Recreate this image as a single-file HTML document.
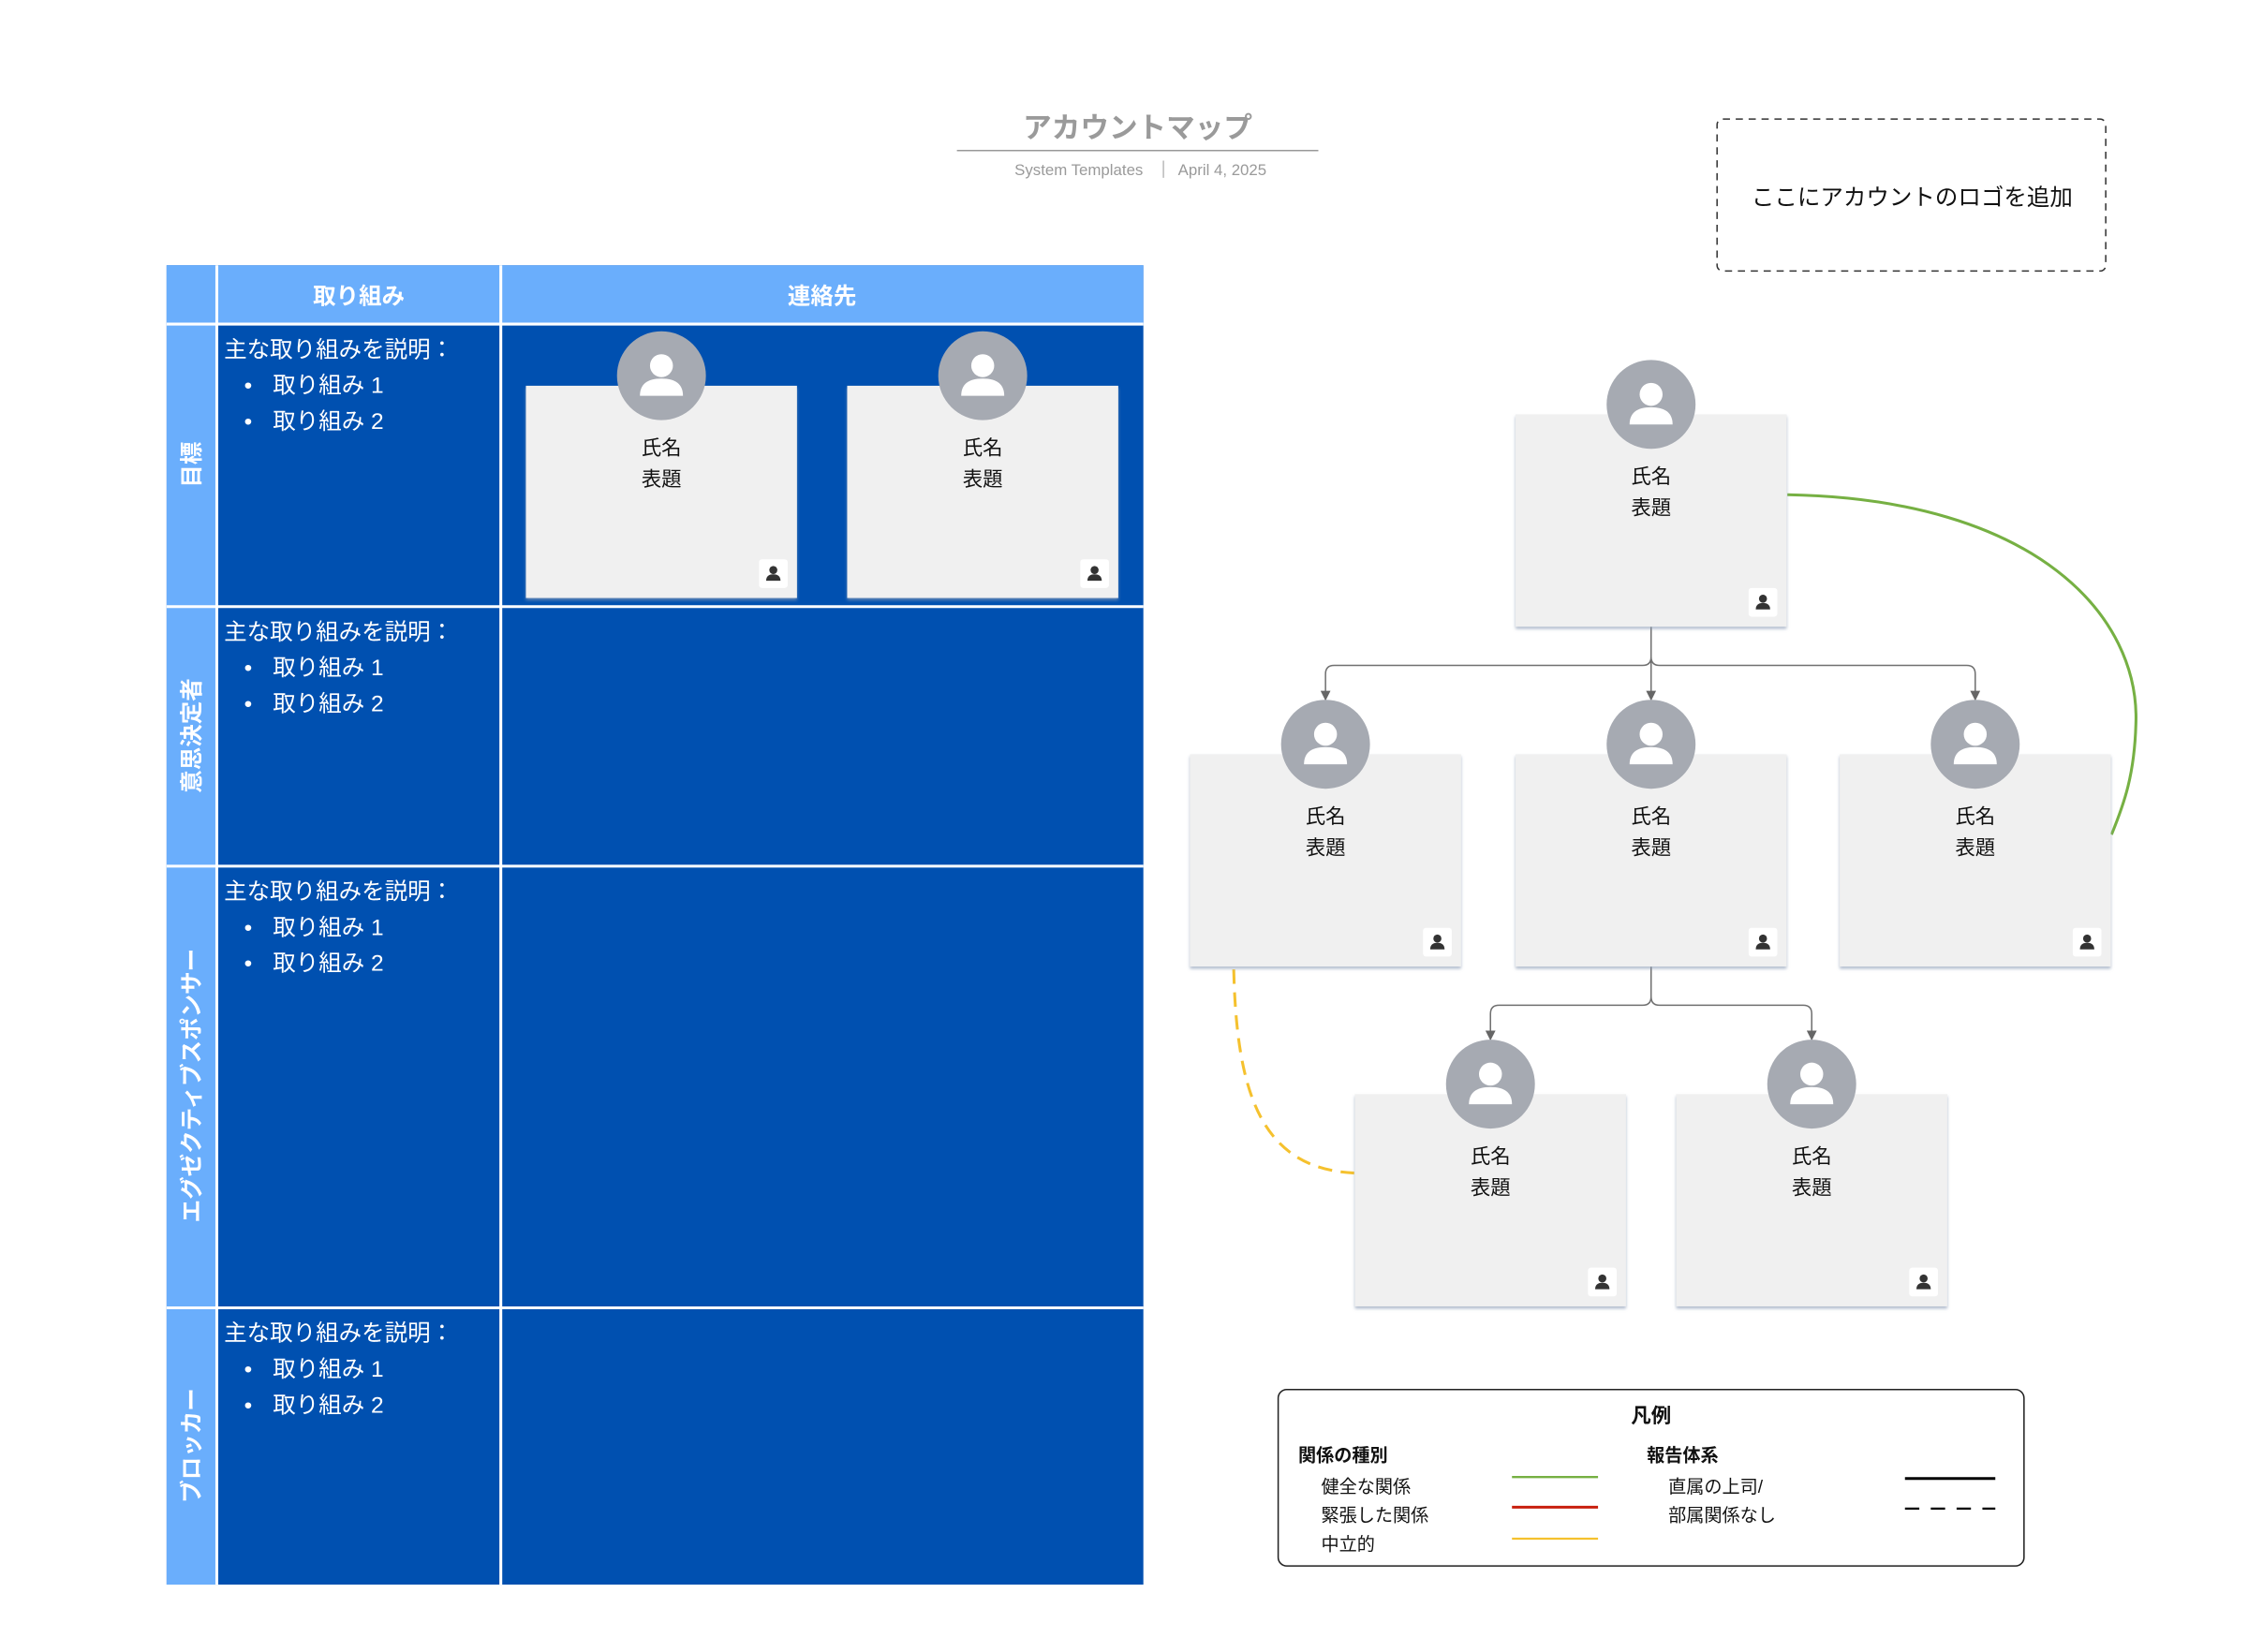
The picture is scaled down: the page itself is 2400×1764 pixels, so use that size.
<!DOCTYPE html>
<html><head><meta charset="utf-8">
<style>
html,body{margin:0;padding:0;background:#fff;}
svg{display:block;}
text{font-family:"Liberation Sans","Noto Sans CJK JP",sans-serif;}
</style></head>
<body>
<svg width="2400" height="1764" viewBox="0 0 1567 1152" xmlns="http://www.w3.org/2000/svg">
<defs>
  <g id="av">
    <circle cx="0" cy="0" r="31" fill="#a6aab2"/>
    <circle cx="0" cy="-7" r="8" fill="#fff"/>
    <path d="M-15 14 Q-15 2 0 2 Q15 2 15 14 Z" fill="#fff"/>
  </g>
  <g id="ic">
    <rect x="-10" y="-10" width="20" height="20" rx="2" fill="#fff"/>
    <circle cx="0" cy="-2.5" r="2.8" fill="#333"/>
    <path d="M-5 5 Q-5 0.5 0 0.5 Q5 0.5 5 5 Z" fill="#333"/>
  </g>
  <filter id="sh" x="-5%" y="-5%" width="110%" height="110%"><feDropShadow dx="0" dy="1.5" stdDeviation="1" flood-color="#8a9bb5" flood-opacity="0.7"/></filter>
  <marker id="ar" viewBox="0 0 10 10" refX="9" refY="5" markerWidth="7" markerHeight="7" orient="auto"><path d="M0 0L10 5L0 10z" fill="#666"/></marker>
</defs>

<text x="793" y="96" font-size="20" font-weight="bold" fill="#9a9a9a" text-anchor="middle">アカウントマップ</text>
<line x1="667" y1="105" x2="919" y2="105" stroke="#999" stroke-width="1"/>
<text x="752" y="122" font-size="11" fill="#9a9a9a" text-anchor="middle">System Templates</text>
<line x1="811" y1="112" x2="811" y2="124" stroke="#bbb" stroke-width="1"/>
<text x="852" y="122" font-size="11" fill="#9a9a9a" text-anchor="middle">April 4, 2025</text>

<rect x="1197" y="83" width="271" height="106" rx="4" fill="none" stroke="#333" stroke-width="1" stroke-dasharray="5,4"/>
<text x="1333" y="143" font-size="16" fill="#111" text-anchor="middle">ここにアカウントのロゴを追加</text>

<rect x="116" y="185" width="681" height="920" fill="#0050b0"/>
<rect x="116" y="185" width="681" height="41" fill="#6aaefc"/>
<rect x="116" y="185" width="35" height="920" fill="#6aaefc"/>
<g stroke="#fff" stroke-width="2">
<line x1="151" y1="185" x2="151" y2="1105"/>
<line x1="349" y1="185" x2="349" y2="1105"/>
<line x1="116" y1="226" x2="797" y2="226"/>
<line x1="116" y1="423" x2="797" y2="423"/>
<line x1="116" y1="604" x2="797" y2="604"/>
<line x1="116" y1="912" x2="797" y2="912"/>
</g>
<text x="250" y="212" font-size="16" font-weight="bold" fill="#fff" text-anchor="middle">取り組み</text>
<text x="573" y="212" font-size="16" font-weight="bold" fill="#fff" text-anchor="middle">連絡先</text>

<g font-size="16" font-weight="bold" fill="#fff" text-anchor="middle">
<text transform="translate(139 324) rotate(-90)">目標</text>
<text transform="translate(139 513) rotate(-90)">意思決定者</text>
<text transform="translate(139 757) rotate(-90)">エグゼクティブスポンサー</text>
<text transform="translate(139 1008) rotate(-90)">ブロッカー</text>
</g>

<g font-size="16" fill="#fff">
<text x="156" y="249">主な取り組みを説明：</text>
<text x="170" y="274">•</text><text x="190" y="274">取り組み 1</text>
<text x="170" y="299">•</text><text x="190" y="299">取り組み 2</text>
<text x="156" y="446">主な取り組みを説明：</text>
<text x="170" y="471">•</text><text x="190" y="471">取り組み 1</text>
<text x="170" y="496">•</text><text x="190" y="496">取り組み 2</text>
<text x="156" y="627">主な取り組みを説明：</text>
<text x="170" y="652">•</text><text x="190" y="652">取り組み 1</text>
<text x="170" y="677">•</text><text x="190" y="677">取り組み 2</text>
<text x="156" y="935">主な取り組みを説明：</text>
<text x="170" y="960">•</text><text x="190" y="960">取り組み 1</text>
<text x="170" y="985">•</text><text x="190" y="985">取り組み 2</text>
</g>

<g fill="none" stroke="#707070" stroke-width="1">
<path d="M1151 437 V458 Q1151 464 1145 464 H930 Q924 464 924 470 V488" marker-end="url(#ar)"/>
<path d="M1151 458 Q1151 464 1157 464 H1371 Q1377 464 1377 470 V488" marker-end="url(#ar)"/>
<path d="M1151 458 V488" marker-end="url(#ar)"/>
<path d="M1151 674 V695 Q1151 701 1145 701 H1045 Q1039 701 1039 707 V725" marker-end="url(#ar)"/>
<path d="M1151 695 Q1151 701 1157 701 H1257 Q1263 701 1263 707 V725" marker-end="url(#ar)"/>
</g>
<path d="M1246 345 C1420 348 1492 430 1489 505 C1488 540 1481 560 1472 582" fill="none" stroke="#76b043" stroke-width="2"/>
<path d="M860 676 C862 760 878 815 944 818" fill="none" stroke="#f5c12e" stroke-width="2" stroke-dasharray="10,6"/>

<g font-size="14" fill="#111" text-anchor="middle">
<g transform="translate(461 269)">
 <rect x="-94.5" y="0" width="189" height="148" fill="#f0f0f0" filter="url(#sh)"/>
 <use href="#av" y="-7"/><text y="48">氏名</text><text y="70">表題</text><use href="#ic" x="78" y="131"/>
</g>
<g transform="translate(685 269)">
 <rect x="-94.5" y="0" width="189" height="148" fill="#f0f0f0" filter="url(#sh)"/>
 <use href="#av" y="-7"/><text y="48">氏名</text><text y="70">表題</text><use href="#ic" x="78" y="131"/>
</g>
<g transform="translate(1151 289)">
 <rect x="-94.5" y="0" width="189" height="148" fill="#f0f0f0" filter="url(#sh)"/>
 <use href="#av" y="-7"/><text y="48">氏名</text><text y="70">表題</text><use href="#ic" x="78" y="131"/>
</g>
<g transform="translate(924 526)">
 <rect x="-94.5" y="0" width="189" height="148" fill="#f0f0f0" filter="url(#sh)"/>
 <use href="#av" y="-7"/><text y="48">氏名</text><text y="70">表題</text><use href="#ic" x="78" y="131"/>
</g>
<g transform="translate(1151 526)">
 <rect x="-94.5" y="0" width="189" height="148" fill="#f0f0f0" filter="url(#sh)"/>
 <use href="#av" y="-7"/><text y="48">氏名</text><text y="70">表題</text><use href="#ic" x="78" y="131"/>
</g>
<g transform="translate(1377 526)">
 <rect x="-94.5" y="0" width="189" height="148" fill="#f0f0f0" filter="url(#sh)"/>
 <use href="#av" y="-7"/><text y="48">氏名</text><text y="70">表題</text><use href="#ic" x="78" y="131"/>
</g>
<g transform="translate(1039 763)">
 <rect x="-94.5" y="0" width="189" height="148" fill="#f0f0f0" filter="url(#sh)"/>
 <use href="#av" y="-7"/><text y="48">氏名</text><text y="70">表題</text><use href="#ic" x="78" y="131"/>
</g>
<g transform="translate(1263 763)">
 <rect x="-94.5" y="0" width="189" height="148" fill="#f0f0f0" filter="url(#sh)"/>
 <use href="#av" y="-7"/><text y="48">氏名</text><text y="70">表題</text><use href="#ic" x="78" y="131"/>
</g>
</g>

<rect x="891" y="969" width="520" height="123" rx="6" fill="#fff" stroke="#222" stroke-width="1"/>
<text x="1151" y="992" font-size="14" font-weight="bold" fill="#111" text-anchor="middle">凡例</text>
<g font-size="12.5" fill="#111">
<text x="905" y="1019" font-weight="bold">関係の種別</text>
<text x="921" y="1041">健全な関係</text>
<text x="921" y="1061">緊張した関係</text>
<text x="921" y="1081">中立的</text>
<text x="1148" y="1019" font-weight="bold">報告体系</text>
<text x="1163" y="1041">直属の上司/</text>
<text x="1163" y="1061">部属関係なし</text>
</g>
<line x1="1054" y1="1030" x2="1114" y2="1030" stroke="#76b043" stroke-width="1.5"/>
<line x1="1054" y1="1051" x2="1114" y2="1051" stroke="#c8200e" stroke-width="2"/>
<line x1="1054" y1="1073" x2="1114" y2="1073" stroke="#f5c12e" stroke-width="1.5"/>
<line x1="1328" y1="1031" x2="1391" y2="1031" stroke="#000" stroke-width="2"/>
<line x1="1328" y1="1052" x2="1391" y2="1052" stroke="#000" stroke-width="1.5" stroke-dasharray="10,8"/>
</svg>
</body></html>
